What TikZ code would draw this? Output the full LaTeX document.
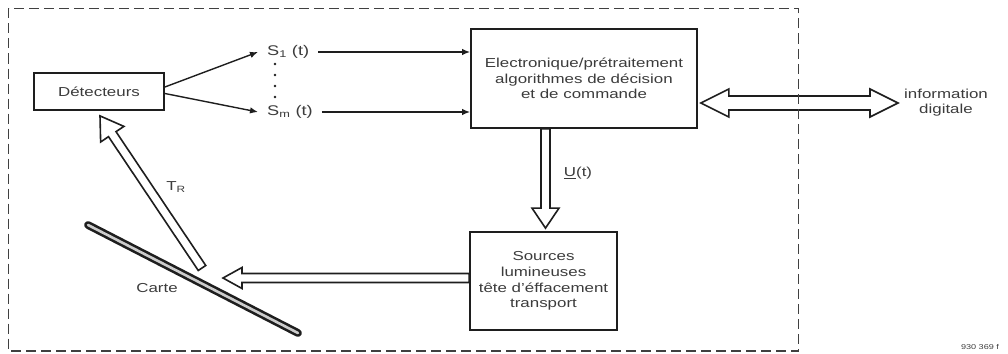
\documentclass[tikz,border=0pt]{standalone}
\usepackage{fontspec}
\setmainfont{Liberation Sans}[FakeStretch=1.3]
\usetikzlibrary{calc,arrows.meta}
\definecolor{ink}{HTML}{1E1E1E}
\definecolor{txt}{HTML}{3C3C3C}
\newcommand\harrow[5]{%
  \draw[hollow] let \p1=($(#2)-(#1)$), \n1={atan2(\y1,\x1)}, \n2={veclen(\x1,\y1)} in
    [shift={(#1)}, rotate=\n1]
    (0pt,#3pt) -- ({\n2*1pt-#5pt},#3pt) -- ({\n2*1pt-#5pt},#4pt) -- ({\n2*1pt},0pt)
    -- ({\n2*1pt-#5pt},-#4pt) -- ({\n2*1pt-#5pt},-#3pt) -- (0pt,-#3pt) -- cycle;}
\newcommand\dharrow[5]{%
  \draw[hollow] let \p1=($(#2)-(#1)$), \n1={atan2(\y1,\x1)}, \n2={veclen(\x1,\y1)} in
    [shift={(#1)}, rotate=\n1]
    (0pt,0pt) -- (#5pt,#4pt) -- (#5pt,#3pt) -- ({\n2*1pt-#5pt},#3pt) -- ({\n2*1pt-#5pt},#4pt)
    -- ({\n2*1pt},0pt) -- ({\n2*1pt-#5pt},-#4pt) -- ({\n2*1pt-#5pt},-#3pt)
    -- (#5pt,-#3pt) -- (#5pt,-#4pt) -- cycle;}
\tikzset{
  box/.style={draw=ink, line width=1.8pt, fill=white, align=center, text=txt,
    font=\fontsize{13}{15.7}\selectfont, inner sep=0pt},
  lbl/.style={text=txt, font=\fontsize{13}{15}\selectfont, inner sep=2pt},
  sig/.style={draw=ink, line width=1.4pt, -{Latex[length=8pt,width=6.5pt]}},
  hollow/.style={draw=ink, line width=1.6pt, fill=white, line join=miter},
  frame/.style={draw=black!75, line width=1.7pt, dash pattern=on 10pt off 5pt},
  cardstyle/.style={draw=ink, double=white!80!black, double distance=2.6pt, line width=2.6pt, line cap=round}
}
\begin{document}
\begin{tikzpicture}[x=1pt, y=-1pt]
\useasboundingbox (0,0) rectangle (1008,353);
% blocks
\node[box, minimum width=130pt, minimum height=37pt] (det) at (99,91.5) {Détecteurs};
\node[box, minimum width=226pt, minimum height=99pt] (elec) at (584,78.5)
  {Electronique/prétraitement\\algorithmes de décision\\et de commande};
\node[box, minimum width=147pt, minimum height=98pt] (src) at (543.5,281)
  {Sources\\lumineuses\\tête d'éffacement\\transport};
% labels
\node[lbl, anchor=west, inner xsep=9pt, font=\fontsize{14}{15}\selectfont] (s1) at (258,52) {S\textsubscript{1} (t)};
\node[lbl, anchor=west, inner xsep=9pt, font=\fontsize{14}{15}\selectfont] (sm) at (258,112) {S\textsubscript{m} (t)};
\node[lbl, align=center, inner xsep=6pt] (info) at (946,103) {information\\digitale};
\node[lbl] (ulab) at (578,173) {\underline{U}(t)};
\node[lbl] (trlab) at (176,187) {T\textsubscript{R}};
\node[lbl] (carte) at (157,288) {Carte};
\node[text=txt, font=\fontsize{7}{8}\selectfont, inner sep=0pt] (code) at (980,347) {930 369 f};
% dots between S1 and Sm
\foreach \yy in {64,75,86,97} \fill[ink] (275,\yy) circle (1.3pt);
% signal connectors
\draw[sig] ($(det.east)+(0,-4.5)$) -- (s1.west);
\draw[sig] ($(det.east)+(0,2)$) -- (sm.west);
\draw[sig] (s1.east) -- (s1.east -| elec.west);
\draw[sig] (sm.east) -- (sm.east -| elec.west);
% card
\coordinate (cardA) at (88,225);
\coordinate (cardB) at (298,333);
\draw[cardstyle] (cardA) -- (cardB);
% hollow arrows
\coordinate (ustart) at ($(src.north |- elec.south)+(2,0)$);
\coordinate (uend) at ($(src.north)+(2,-3)$);
\harrow{ustart}{uend}{4.5}{13.5}{20}
\coordinate (hstart) at ($(src.west)+(0,-3)$);
\coordinate (hend) at (223,278);
\harrow{hstart}{hend}{4.5}{10.5}{19}
\coordinate (trtail) at (202,268);
\coordinate (trtip) at ($(det.south)+(1,5)$);
\harrow{trtail}{trtip}{4.5}{14}{22}
\coordinate (istart) at ($(elec.east |- info.west)+(3,0)$);
\dharrow{istart}{info.west}{7}{14}{28}
% frame
\coordinate (frTL) at (8.5,8.5);
\coordinate (frBR) at (798.5,351);
\draw[frame] (frTL) rectangle (frBR);
\end{tikzpicture}
\end{document}
